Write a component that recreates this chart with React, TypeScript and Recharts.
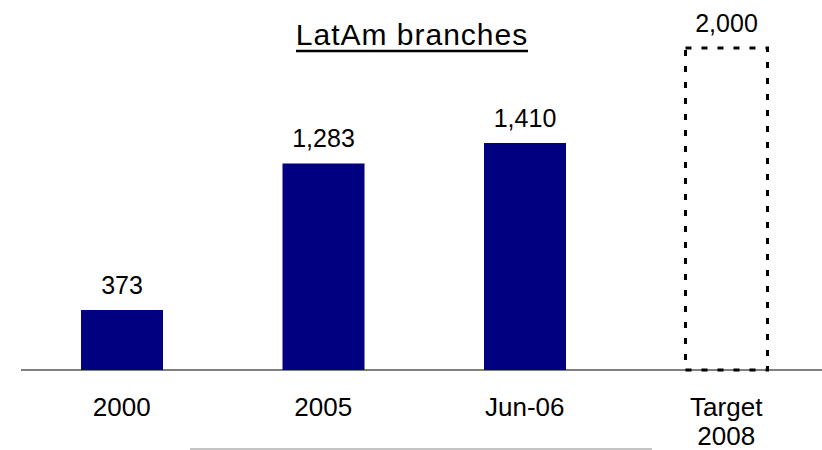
import React from 'react';
import { BarChart, Bar, XAxis, YAxis, Cell, LabelList, CartesianGrid } from 'recharts';

const categories = ['2000', '2005', 'Jun-06', 'Target 2008'];
const branches = [373, 1283, 1410, 2000];
const isTarget = [false, false, false, true];
const yDomain = [0, 2000];
const title = 'LatAm branches';

const data = categories.map((c, i) => ({ name: c, value: branches[i], target: isTarget[i] }));

const FONT = '"Liberation Sans", Arial, sans-serif';

const CategoryTick = (props: any) => {
  const { x, y, payload } = props;
  const lines = String(payload.value).split(' ');
  return (
    <g>
      {lines.map((ln: string, i: number) => (
        <text
          key={i}
          x={x}
          y={y + 46 + i * 29}
          textAnchor="middle"
          fontFamily={FONT}
          fontSize={26}
          fill="#000"
        >
          {ln}
        </text>
      ))}
    </g>
  );
};

const ValueLabel = (props: any) => {
  const { x, y, width, value } = props;
  return (
    <text
      x={x + width / 2}
      y={y - 16}
      textAnchor="middle"
      fontFamily={FONT}
      fontSize={25}
      fill="#000"
    >
      {Number(value).toLocaleString('en-US')}
    </text>
  );
};

const baselineGenerator = (p: any) => [p.offset.top + p.offset.height];

export default function App() {
  return (
    <div
      style={{
        position: 'absolute',
        left: 0,
        top: 0,
        width: 822,
        height: 450,
        overflow: 'hidden',
        background: '#fff',
      }}
    >
      <BarChart
        width={827}
        height={450}
        data={data}
        margin={{ top: 48, right: 0, bottom: 0, left: 21 }}
        barCategoryGap={0}
      >
        <CartesianGrid
          vertical={false}
          horizontalCoordinatesGenerator={baselineGenerator}
          stroke="#808080"
          strokeWidth={2}
        />
        <YAxis hide domain={yDomain} type="number" />
        <XAxis
          dataKey="name"
          height={80}
          tickLine={false}
          tickSize={0}
          tickMargin={0}
          axisLine={false}
          tick={<CategoryTick />}
          interval={0}
        />
        <Bar dataKey="value" barSize={82} isAnimationActive={false}>
          {data.map((d, i) => (
            <Cell
              key={i}
              fill={d.target ? 'none' : '#000080'}
              stroke={d.target ? '#000' : 'none'}
              strokeWidth={d.target ? 3 : 0}
              strokeDasharray={d.target ? '6 10' : undefined}
            />
          ))}
          <LabelList dataKey="value" content={<ValueLabel />} />
        </Bar>
      </BarChart>
      <svg
        width={822}
        height={450}
        style={{ position: 'absolute', left: 0, top: 0, pointerEvents: 'none' }}
      >
        <text
          x={412}
          y={45}
          textAnchor="middle"
          fontFamily={FONT}
          fontSize={30}
          letterSpacing={1}
          fill="#000"
        >
          {title}
        </text>
        <line x1={296} x2={528} y1={51} y2={51} stroke="#000" strokeWidth={2.4} />
        <line x1={190} x2={652} y1={449} y2={449} stroke="#b0b0b0" strokeWidth={1.5} />
      </svg>
    </div>
  );
}
